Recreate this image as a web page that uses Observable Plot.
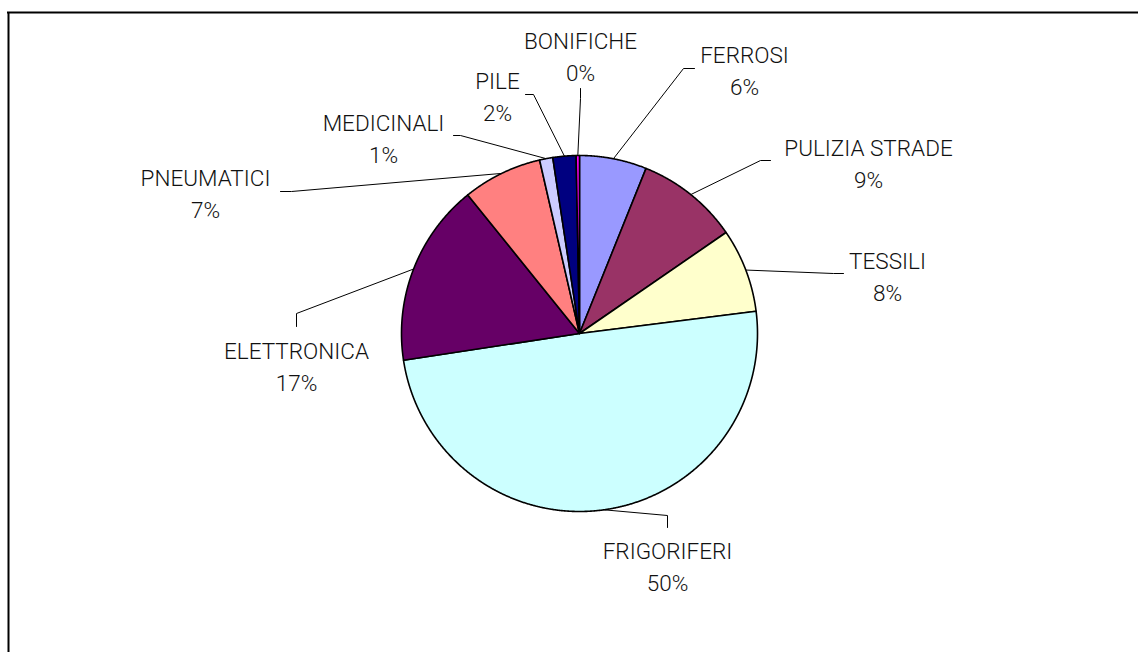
<!DOCTYPE html>
<html><head><meta charset="utf-8">
<script src="https://cdn.jsdelivr.net/npm/d3@7"></script>
<script src="https://cdn.jsdelivr.net/npm/@observablehq/plot@0.6"></script>
<style>html,body{margin:0;padding:0;background:#fff;overflow:hidden}</style>
</head><body><div id="chart"></div>
<script>
// ---- data ----
const categories = ["FERROSI","PULIZIA STRADE","TESSILI","FRIGORIFERI","ELETTRONICA","PNEUMATICI","MEDICINALI","PILE","BONIFICHE"];
const values = [6.1, 9.3, 7.6, 49.6, 16.6, 7.2, 1.2, 2.1, 0.3];
const colors = ["#9999FF","#993366","#FFFFCC","#CCFFFF","#660066","#FF8080","#CCCCFF","#000080","#FF00FF"];

// ---- label layout (pixel offsets from the pie centre) ----
const labelOffset = [[165,-239],[289,-146],[308,-33],[88,257],[-283,57],[-374,-116],[-196,-171],[-82,-213],[1,-253]];
const leaderAttach = [[115,-265],[191,-173],[264,-60],[88,194],[-283,-7],[-299,-142],[-126,-198],[-54,-239],[1,-245]];
const leaderElbow  = [[104,-265],[181,-173],[254,-60],[88,182],[-283,-20],[-288,-142],[-119,-198],[-46,-239],[1,-235]];

// ---- geometry ----
const W = 1138, H = 652, CX = 579, CY = 333, R = 178;
const FRAME_LEFT = 8, FRAME_TOP = 12;
const total = d3.sum(values);
const arcs = d3.pie().sort(null).value(d => d)(values);

const slices = [];
arcs.forEach((a, i) => {
  const name = categories[i];
  slices.push({name, x: 0, y: 0});
  const n = Math.max(2, Math.ceil((a.endAngle - a.startAngle) / 0.004));
  for (let k = 0; k <= n; k++) {
    const t = a.startAngle + (a.endAngle - a.startAngle) * k / n;
    slices.push({name, x: Math.sin(t), y: Math.cos(t)});
  }
});

const leaders = [];
const labels = [];
arcs.forEach((a, i) => {
  const name = categories[i];
  const mid = (a.startAngle + a.endAngle) / 2;
  leaders.push({name, x: Math.sin(mid), y: Math.cos(mid)});
  leaders.push({name, x: leaderElbow[i][0] / R, y: -leaderElbow[i][1] / R});
  leaders.push({name, x: leaderAttach[i][0] / R, y: -leaderAttach[i][1] / R});
  labels.push({
    name,
    x: labelOffset[i][0] / R,
    y: -labelOffset[i][1] / R,
    text: name + "\n" + Math.round(values[i] / total * 100) + "%"
  });
});

const xL = (FRAME_LEFT - CX) / R, xR = (W + 20 - CX) / R;
const yT = (CY - FRAME_TOP) / R, yB = -(H + 20 - CY) / R;

const chart = Plot.plot({
  width: W, height: H,
  marginTop: 0, marginRight: 0, marginBottom: 0, marginLeft: 0,
  style: {background: "#fff", overflow: "hidden"},
  x: {domain: [-CX / R, (W - CX) / R], axis: null},
  y: {domain: [-(H - CY) / R, CY / R], axis: null},
  color: {domain: categories, range: colors},
  marks: [
    Plot.ruleX([xL], {y1: yB, y2: yT, stroke: "#000", strokeWidth: 2}),
    Plot.ruleY([yT], {x1: xL - 1 / R, x2: xR, stroke: "#000", strokeWidth: 2}),
    Plot.line(leaders, {x: "x", y: "y", z: "name", stroke: "#000", strokeWidth: 1}),
    Plot.line(slices, {x: "x", y: "y", z: "name", fill: "name", stroke: "#000", strokeWidth: 1.6, curve: "linear-closed", strokeLinejoin: "round"}),
    Plot.text(labels, {x: "x", y: "y", text: "text", lineAnchor: "bottom", lineHeight: 32 / 22.5, fontSize: 22.5, fontWeight: 300, fontFamily: "Roboto, 'Liberation Sans', Arial, sans-serif", fill: "#111", textAnchor: "middle"})
  ]
});
document.getElementById("chart").append(chart);
</script>
</body></html>
